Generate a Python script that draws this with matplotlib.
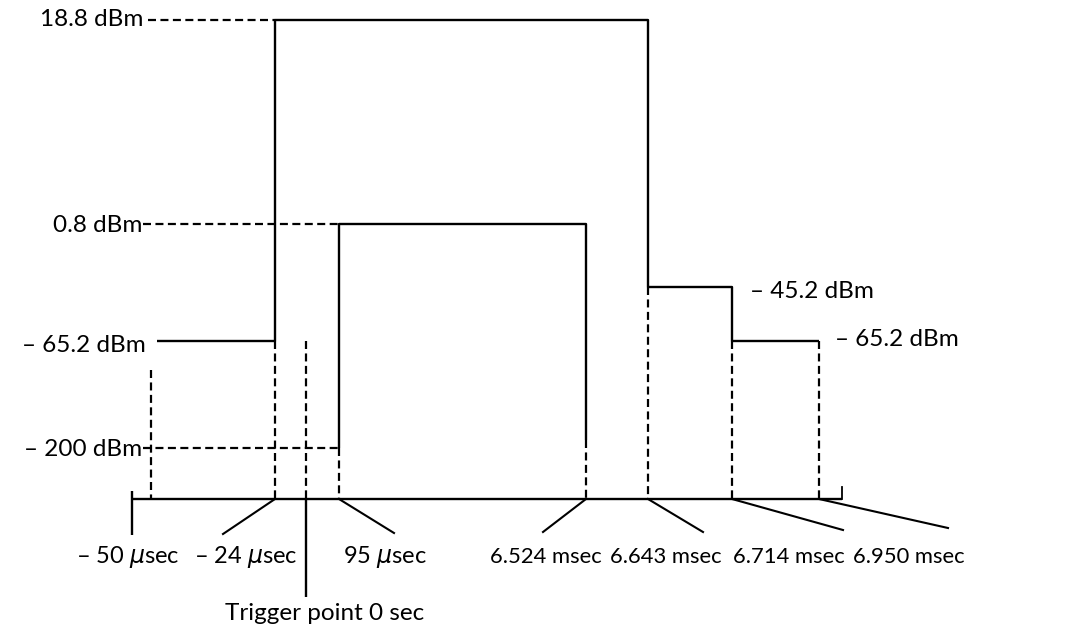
#!/usr/bin/env python3
"""Burst power/time template: power levels and switching instants (schematic, not to scale)."""
import matplotlib
matplotlib.use("Agg")
import matplotlib.pyplot as plt

INK = "#000000"
plt.rcParams["font.family"] = ["Lato", "DejaVu Sans"]
plt.rcParams["mathtext.fontset"] = "custom"
plt.rcParams["mathtext.rm"] = "Lato"
plt.rcParams["mathtext.it"] = "DejaVu Sans:italic"

# power levels (dBm) and their labels
levels_dbm = [18.8, 0.8, -45.2, -65.2, -200]
level_labels = ["18.8 dBm", "0.8 dBm", "\u2013 45.2 dBm", "\u2013 65.2 dBm", "\u2013 200 dBm"]

# switching instants (µs) and their labels
event_us = [-50, -24, 0, 95, 6524, 6643, 6714, 6950]
event_labels = ["\u2013 50 $\\mu$sec", "\u2013 24 $\\mu$sec", "Trigger point 0 sec",
                "95 $\\mu$sec", "6.524 msec", "6.643 msec", "6.714 msec", "6.950 msec"]

# schematic placement on the drawing (the diagram is not drawn to scale)
LEVEL_Y = {18.8: 20, 0.8: 224, -45.2: 287, -65.2: 341, -200: 448}
EVENT_X = {-50: 132, -24: 275, 0: 306, 95: 339, 6524: 586, 6643: 648, 6714: 732, 6950: 819}
BASE_Y = 499
START_X = 157      # left end of the -65.2 dBm floor before the burst
END_X = 842        # right end of the time axis

X = EVENT_X.get
Y = LEVEL_Y.get

fig = plt.figure(figsize=(10.73, 6.33), dpi=100)
ax = fig.add_axes([0, 0, 1, 1])
ax.set_xlim(0, 1073)
ax.set_ylim(633, 0)
ax.axis("off")

SOLID = dict(color=INK, lw=1.7, solid_capstyle="butt")
DASH = dict(color=INK, lw=1.6, linestyle=(0, (3.6, 2.0)))
FS = 17.5
FS_US = 17
FS_MS = 15.8

# outer trace: -65.2 -> 18.8 -> -45.2 -> -65.2
outer_x = [START_X, X(-24), X(-24), X(6643), X(6643), X(6714), X(6714), X(6950)]
outer_y = [Y(-65.2), Y(-65.2), Y(18.8), Y(18.8), Y(-45.2), Y(-45.2), Y(-65.2), Y(-65.2)]
ax.plot(outer_x, outer_y, **SOLID)

# inner trace: -200 -> 0.8 -> back down
inner_x = [X(95), X(95), X(6524), X(6524)]
inner_y = [Y(-200), Y(0.8), Y(0.8), 440]
ax.plot(inner_x, inner_y, **SOLID)

# dashed level leaders
ax.plot([148, X(-24)], [Y(18.8)] * 2, **DASH)
ax.plot([143, X(95)], [Y(0.8)] * 2, **DASH)
ax.plot([143, X(95)], [Y(-200)] * 2, **DASH)

# dashed drops to the time axis
ax.plot([151, 151], [370, BASE_Y], **DASH)
for t, top in [(-24, -65.2), (0, -65.2), (95, -200), (6643, -45.2),
               (6714, -65.2), (6950, -65.2)]:
    ax.plot([X(t), X(t)], [Y(top), BASE_Y], **DASH)
ax.plot([X(6524), X(6524)], [440, BASE_Y], **DASH)

# time axis with end marks
ax.plot([X(-50), END_X], [BASE_Y, BASE_Y], **SOLID)
ax.plot([X(-50), X(-50)], [491, 535], **SOLID)
ax.plot([END_X, END_X], [487, BASE_Y], color=INK, lw=1.3)
ax.plot([X(0), X(0)], [BASE_Y, 597], **SOLID)

# level labels
ax.text(143, Y(18.8), level_labels[0], ha="right", va="center", fontsize=FS, color=INK)
ax.text(142, Y(0.8) + 2, level_labels[1], ha="right", va="center", fontsize=FS, color=INK)
ax.text(146, 345, level_labels[3], ha="right", va="center", fontsize=FS, color=INK)
ax.text(142, Y(-200) + 1, level_labels[4], ha="right", va="center", fontsize=FS, color=INK)
ax.text(750, 292, level_labels[2], ha="left", va="center", fontsize=FS, color=INK)
ax.text(835, 340, level_labels[3], ha="left", va="center", fontsize=FS, color=INK)

# time labels with slanted leaders
lead_end = {-24: (223, 534), 95: (394, 533), 6524: (543, 532),
            6643: (703, 532), 6714: (843, 530), 6950: (948, 528)}
for t, (ex, ey) in lead_end.items():
    ax.plot([X(t), ex], [BASE_Y, ey], color=INK, lw=1.5)

label_x = {-50: 128, -24: 246, 95: 385, 6524: 546, 6643: 666, 6714: 789, 6950: 909}
for t, lab in zip(event_us, event_labels):
    if t == 0:
        ax.text(325, 614, lab, ha="center", va="center", fontsize=FS, color=INK)
    else:
        size = FS_US if abs(t) < 1000 else FS_MS
        ax.text(label_x[t], 557, lab, ha="center", va="center", fontsize=size, color=INK)

fig.savefig("out.png", dpi=100, facecolor="white")
